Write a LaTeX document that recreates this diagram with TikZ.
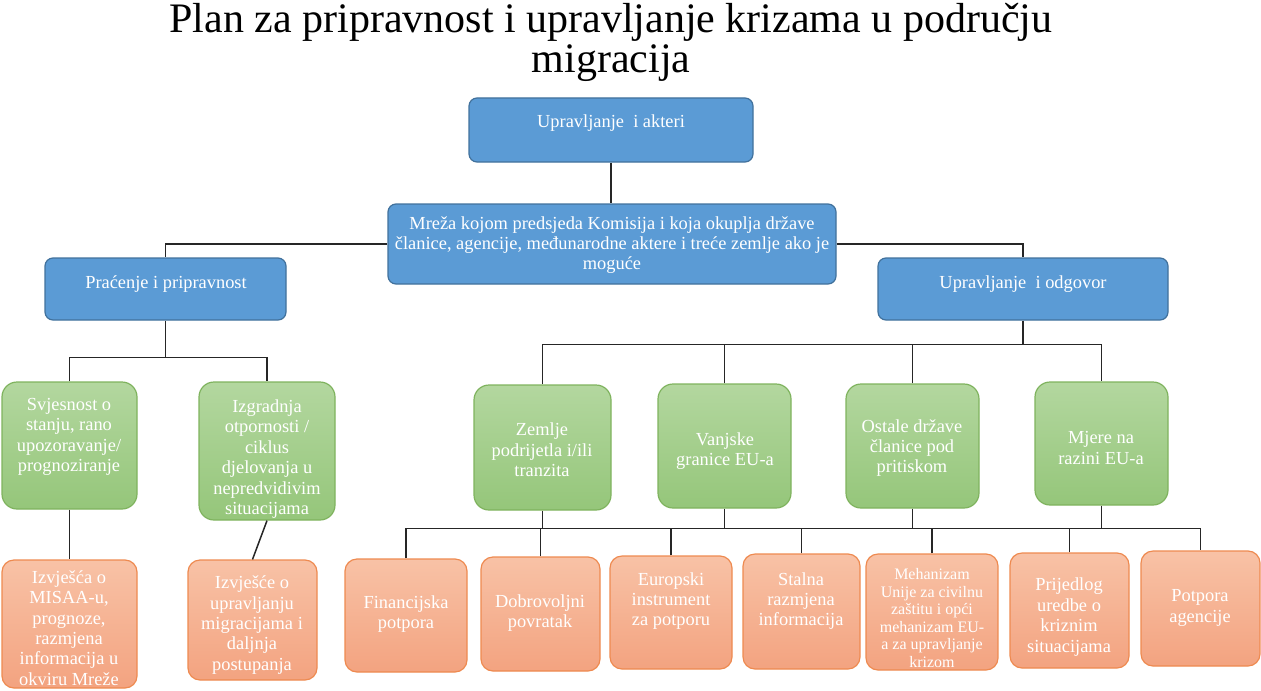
\documentclass[tikz,border=0pt]{standalone}
\usepackage{fontspec}
\setmainfont{Liberation Serif}
\usetikzlibrary{fit,positioning}
\definecolor{blufill}{HTML}{5B9BD5}
\definecolor{bluedge}{HTML}{41719C}
\definecolor{grntop}{HTML}{B3D79F}
\definecolor{grnbot}{HTML}{95C67A}
\definecolor{grnedge}{HTML}{7FB35E}
\definecolor{orgtop}{HTML}{F8C2A6}
\definecolor{orgbot}{HTML}{F3A380}
\definecolor{orgedge}{HTML}{EE8A50}

\begin{document}
\begin{tikzpicture}[x=0.5pt, y=-0.5pt, font=\fontsize{9.2}{10.2}\selectfont]
  \tikzstyle{blu}=[draw=bluedge,fill=blufill,rounded corners=4pt,inner sep=0pt,line width=0.6pt]
  \tikzstyle{grn}=[draw=grnedge,top color=grntop,bottom color=grnbot,rounded corners=7.5pt,inner sep=0pt,line width=0.6pt]
  \tikzstyle{org}=[draw=orgedge,top color=orgtop,bottom color=orgbot,rounded corners=6pt,inner sep=0pt,line width=0.6pt]
  \tikzstyle{txt}=[text=white,align=center,inner sep=0pt]
  \tikzstyle{con}=[draw=black!85,line width=0.75pt]
  \useasboundingbox (0,0) rectangle (1261,690);
  \node[font=\fontsize{21}{20}\selectfont,align=center] (title) at (611,42) {Plan za pripravnost i upravljanje krizama u području\\migracija};
  % top level
  \node[blu,fit={(469,98) (753,162)}] (upr) {};
  \node[blu,fit={(388,204) (836,284)}] (mreza) {};
  \node[blu,fit={(45,258) (286,320)}] (prac) {};
  \node[blu,fit={(878,258) (1168,320)}] (odg) {};
  % green level
  \node[grn,fit={(2,382) (137,509)}] (svj) {};
  \node[grn,fit={(199,382) (335,520)}] (izg) {};
  \node[grn,fit={(474,385) (611,510)}] (zem) {};
  \node[grn,fit={(658,384) (791,508)}] (van) {};
  \node[grn,fit={(846,384) (979,508)}] (ost) {};
  \node[grn,fit={(1035,382) (1168,505)}] (mje) {};
  % orange level
  \node[org,fit={(2,560) (137,688)}] (izv1) {};
  \node[org,fit={(188,560) (317,680)}] (izv2) {};
  \node[org,fit={(345,559) (467,672)}] (fin) {};
  \node[org,fit={(481,557) (600,671)}] (dob) {};
  \node[org,fit={(610,556) (732,669)}] (eur) {};
  \node[org,fit={(743,554) (860,669)}] (sta) {};
  \node[org,fit={(866,554) (998,670)}] (meh) {};
  \node[org,fit={(1010,553) (1129,668)}] (pri) {};
  \node[org,fit={(1141,551) (1260,666)}] (pot) {};
  % texts
  \node[txt] (upr-t) at (611,123) {Upravljanje\ \ i akteri};
  \node[txt] (mreza-t) at (612,245) {Mreža kojom predsjeda Komisija i koja okuplja države\\članice, agencije, međunarodne aktere i treće zemlje ako je\\moguće};
  \node[txt] (prac-t) at (166,284) {Praćenje i pripravnost};
  \node[txt] (odg-t) at (1023,284) {Upravljanje\ \ i odgovor};
  \node[txt] (svj-t) at (69,437) {Svjesnost o\\stanju, rano\\upozoravanje/\\prognoziranje};
  \node[txt] (izg-t) at (267,459) {Izgradnja\\otpornosti /\\ciklus\\djelovanja u\\nepredvidivim\\situacijama};
  \node[txt] (zem-t) at (542,450) {Zemlje\\podrijetla i/ili\\tranzita};
  \node[txt] (van-t) at (725,451) {Vanjske\\granice EU-a};
  \node[txt] (ost-t) at (912,448) {Ostale države\\članice pod\\pritiskom};
  \node[txt] (mje-t) at (1101,448) {Mjere na\\razini EU-a};
  \node[txt] (izv1-t) at (69,628) {Izvješća o\\MISAA-u,\\prognoze,\\razmjena\\informacija u\\okviru Mreže};
  \node[txt] (izv2-t) at (252,625) {Izvješće o\\upravljanju\\migracijama i\\daljnja\\postupanja};
  \node[txt] (fin-t) at (406,614) {Financijska\\potpora};
  \node[txt] (dob-t) at (540,613) {Dobrovoljni\\povratak};
  \node[txt] (eur-t) at (671,601) {Europski\\instrument\\za potporu};
  \node[txt] (sta-t) at (801,601) {Stalna\\razmjena\\informacija};
  \node[txt,font=\fontsize{8}{8.8}\selectfont] (meh-t) at (932,618) {Mehanizam\\Unije za civilnu\\zaštitu i opći\\mehanizam EU-\\a za upravljanje\\krizom};
  \node[txt] (pri-t) at (1069,617) {Prijedlog\\uredbe o\\kriznim\\situacijama};
  \node[txt] (pot-t) at (1200,608) {Potpora\\agencije};
  % connectors
  \draw[con] (upr.south) -- (upr.south |- mreza.north);
  \draw[con] (mreza.west) -| (prac.north);
  \draw[con] (mreza.east) -| (odg.north);
  \draw[con] (prac.south) -- ++(0,37) coordinate (j1);
  \draw[con] (svj.north) |- (j1) -| (izg.north);
  \draw[con] (odg.south) -- ++(0,24) coordinate (j2);
  \draw[con] (zem.north) |- (j2) -| (mje.north);
  \draw[con] (van.north) -- (van.north |- j2);
  \draw[con] (ost.north) -- (ost.north |- j2);
  \draw[con] (svj.south) -- (izv1.north);
  \draw[con] (izg.south) -- (izv2.north);
  \draw[con] (zem.south) -- ++(0,18) coordinate (j3);
  \draw[con] (fin.north) |- (j3) -| (pot.north);
  \draw[con] (van.south) -- (van.south |- j3);
  \draw[con] (ost.south) -- (ost.south |- j3);
  \draw[con] (mje.south) -- (mje.south |- j3);
  \draw[con] (dob.north) -- (dob.north |- j3);
  \draw[con] (eur.north) -- (eur.north |- j3);
  \draw[con] (sta.north) -- (sta.north |- j3);
  \draw[con] (meh.north) -- (meh.north |- j3);
  \draw[con] (pri.north) -- (pri.north |- j3);
\end{tikzpicture}
\end{document}
